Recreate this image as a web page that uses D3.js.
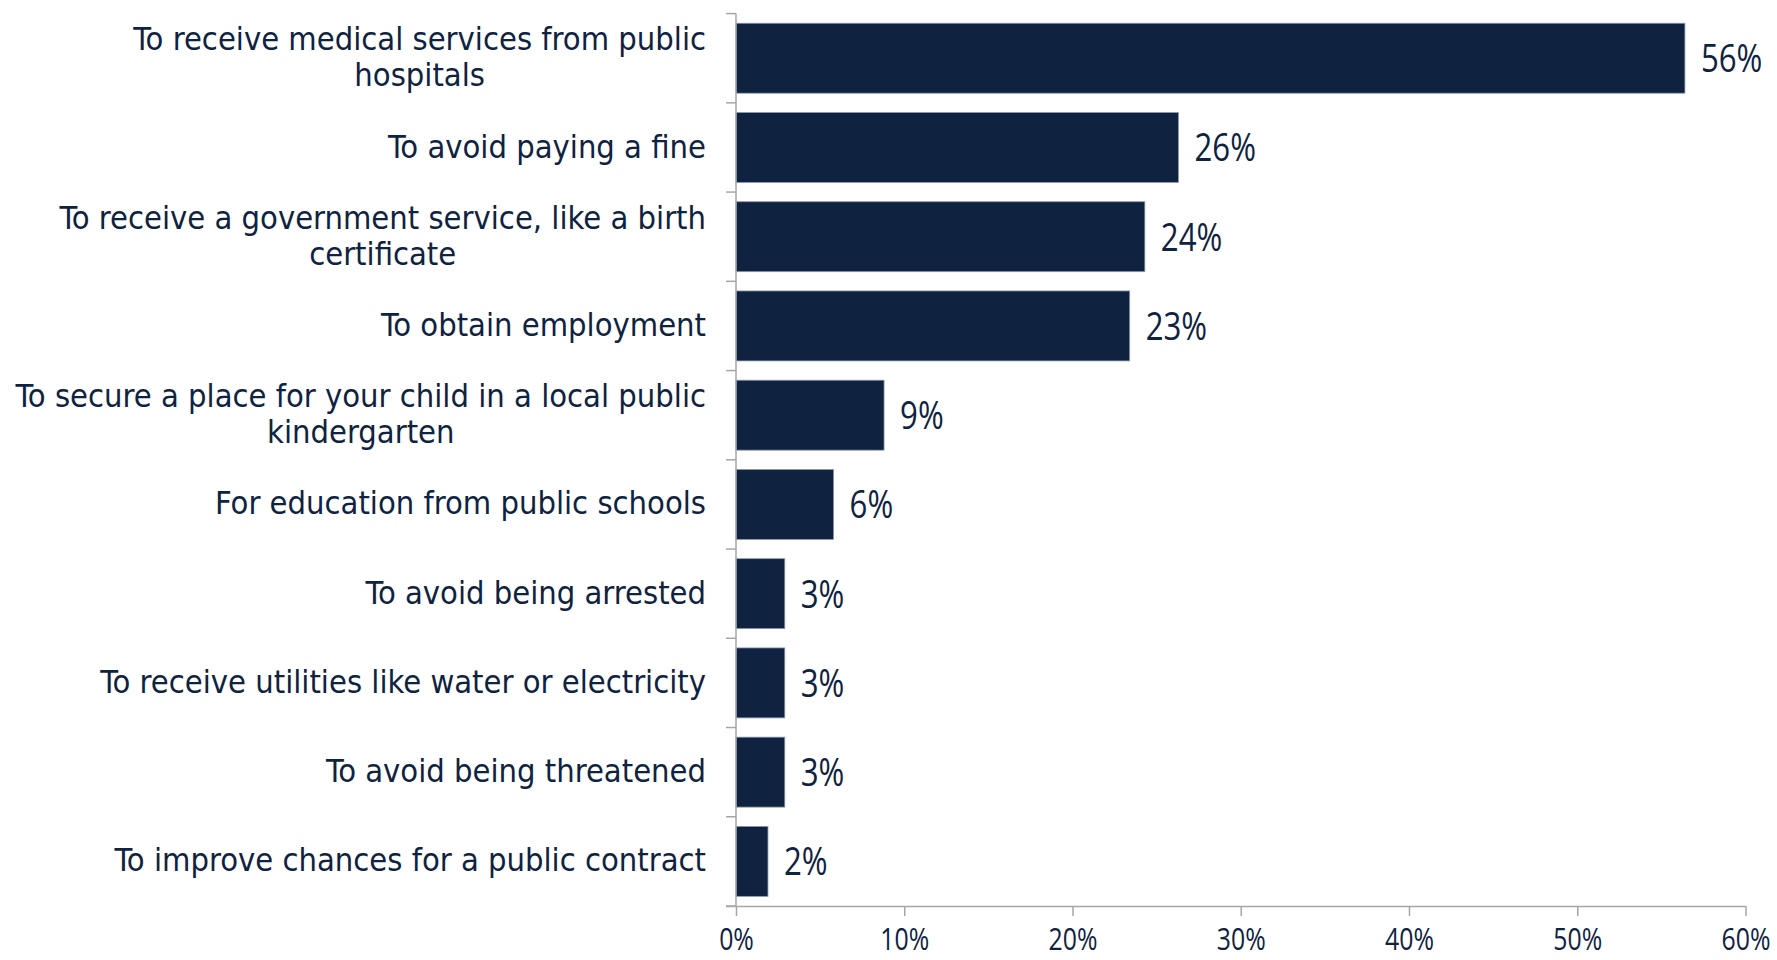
<!DOCTYPE html>
<html>
<head>
<meta charset="utf-8">
<script src="https://cdn.jsdelivr.net/npm/d3@7"></script>
<style>
  html, body { margin: 0; padding: 0; background: #ffffff; }
  svg { display: block; }
</style>
</head>
<body>
<svg id="chart" width="1777" height="960"></svg>
<script>
// ---- data ----
const categories = [
  "To receive medical services from public\nhospitals",
  "To avoid paying a fine",
  "To receive a government service, like a birth\ncertificate",
  "To obtain employment",
  "To secure a place for your child in a local public\nkindergarten",
  "For education from public schools",
  "To avoid being arrested",
  "To receive utilities like water or electricity",
  "To avoid being threatened",
  "To improve chances for a public contract"
];
const values = [56.4, 26.3, 24.3, 23.4, 8.8, 5.8, 2.9, 2.9, 2.9, 1.9];
const xTicks = [0, 10, 20, 30, 40, 50, 60];

// ---- layout ----
const x0 = 736, x1 = 1745.5;
const yTop = 13.6, yBot = 906;
const navy = "#0F2341";
const axisGrey = "#A6A6A6";
const catFont = "'DejaVu Sans Condensed', 'DejaVu Sans', sans-serif";
const numFont = "'Open Sans', 'Noto Sans', sans-serif";
const numSqueeze = 0.8;

const svg = d3.select("#chart");

const x = d3.scaleLinear().domain([0, 60]).range([x0, x1]);
const y = d3.scaleBand().domain(d3.range(categories.length)).range([yTop, yBot]).padding(0);
const barH = y.bandwidth() * 0.784;
const barOff = (y.bandwidth() - barH) / 2;

// bars
svg.append("g").selectAll("rect")
  .data(values)
  .join("rect")
  .attr("x", x(0))
  .attr("y", (d, i) => y(i) + barOff)
  .attr("width", d => x(d) - x(0))
  .attr("height", barH)
  .attr("fill", navy)
  .attr("stroke", "#8D9AAE")
  .attr("stroke-width", 0.8);

// value labels
const valSize = 39;
svg.append("g").selectAll("text")
  .data(values)
  .join("text")
  .attr("transform", (d, i) => `translate(${x(d) + 16},${y(i) + y.bandwidth() / 2 + valSize * 0.357}) scale(${numSqueeze},1)`)
  .attr("font-family", numFont)
  .attr("font-size", valSize)
  .attr("fill", navy)
  .text(d => Math.round(d) + "%");

// y axis (ticks at category boundaries)
const yAxisG = svg.append("g");
yAxisG.append("line")
  .attr("x1", x0).attr("x2", x0)
  .attr("y1", yTop).attr("y2", yBot)
  .attr("stroke", axisGrey).attr("stroke-width", 1.5);
const boundaries = d3.range(categories.length + 1).map(i => i < categories.length ? y(i) : yBot);
yAxisG.selectAll("line.tick")
  .data(boundaries)
  .join("line")
  .attr("class", "tick")
  .attr("x1", x0 - 10).attr("x2", x0)
  .attr("y1", d => d).attr("y2", d => d)
  .attr("stroke", axisGrey).attr("stroke-width", 1.5);

// x axis
const xAxis = d3.axisBottom(x)
  .tickValues(xTicks)
  .tickSize(10)
  .tickSizeOuter(0)
  .tickFormat(d => d + "%");
const xg = svg.append("g").attr("transform", `translate(0,${yBot})`).call(xAxis);
xg.select(".domain").attr("stroke", axisGrey).attr("stroke-width", 1.5)
  .attr("d", `M${x0 - 10},0.5H${x1}`);
xg.selectAll(".tick line").attr("stroke", axisGrey).attr("stroke-width", 1.5);
xg.selectAll(".tick text")
  .attr("y", 0)
  .attr("dy", 0)
  .attr("transform", `translate(0,44) scale(${numSqueeze},1)`)
  .attr("font-family", numFont)
  .attr("font-size", 31)
  .attr("fill", navy);

// category labels (right-aligned block, lines centered within block)
const labelRight = 706;
const lineH = 36;
const catSize = 32.4;
const catG = svg.append("g");
categories.forEach((c, i) => {
  const lines = c.split("\n");
  const cy = y(i) + y.bandwidth() / 2;
  const t = catG.append("text")
    .attr("font-family", catFont)
    .attr("font-size", catSize)
    .attr("fill", navy)
    .attr("text-anchor", "middle");
  lines.forEach((ln, j) => {
    t.append("tspan")
      .attr("y", cy + (j - (lines.length - 1) / 2) * lineH)
      .attr("dy", "0.31em")
      .text(ln);
  });
  let maxW = 0;
  t.selectAll("tspan").each(function() { maxW = Math.max(maxW, this.getComputedTextLength()); });
  t.selectAll("tspan").attr("x", labelRight - maxW / 2);
});
</script>
</body>
</html>
